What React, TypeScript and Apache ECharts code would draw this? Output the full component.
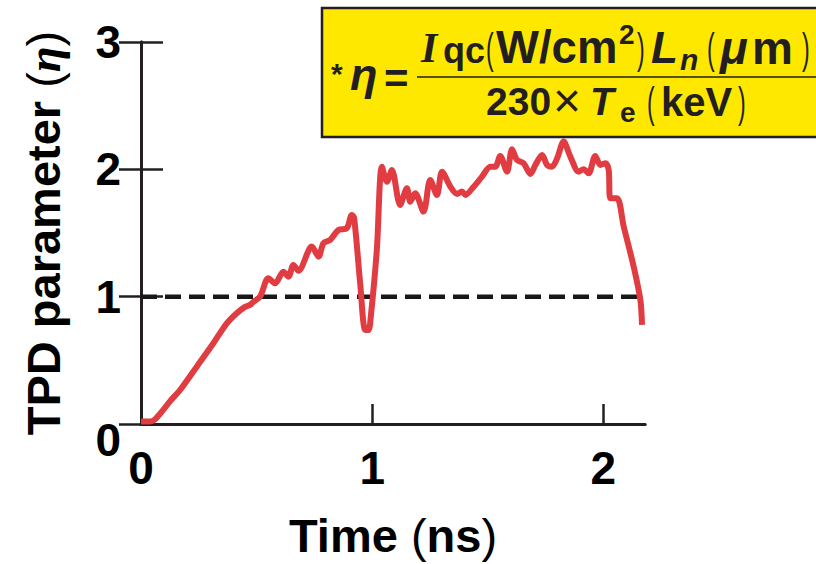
import React, { useEffect, useRef } from "react";
import * as echarts from "echarts";

// Time (ns)
const timeNs: number[] = [
  0, 0.039, 0.06, 0.09, 0.126, 0.169, 0.241, 0.313, 0.371, 0.414, 0.45, 0.472, 0.485, 0.515,
  0.551, 0.58, 0.616, 0.638, 0.659, 0.681, 0.739, 0.768, 0.789, 0.818, 0.854, 0.89, 0.912, 0.922,
  0.948, 0.97, 0.984, 0.994, 1.02, 1.042, 1.064, 1.085, 1.121, 1.15, 1.165, 1.186, 1.222, 1.251,
  1.28, 1.302, 1.338, 1.367, 1.388, 1.403, 1.439, 1.475, 1.511, 1.532, 1.554, 1.583, 1.605, 1.626,
  1.655, 1.684, 1.706, 1.735, 1.756, 1.778, 1.8, 1.828, 1.857, 1.893, 1.915, 1.936, 1.965, 1.987,
  2.009, 2.023, 2.03, 2.059, 2.088, 2.131, 2.16, 2.167,
];
// TPD parameter (eta)
const etaValues: number[] = [
  0.02, 0.02, 0.035, 0.097, 0.18, 0.267, 0.45, 0.634, 0.79, 0.87, 0.92, 0.935, 0.958, 1.0,
  1.145, 1.105, 1.196, 1.157, 1.249, 1.204, 1.393, 1.314, 1.42, 1.445, 1.524, 1.537, 1.642, 1.616,
  1.105, 0.738, 0.738, 0.843, 1.367, 2.021, 1.903, 1.995, 1.72, 1.852, 1.746, 1.812, 1.668, 1.917,
  1.799, 1.982, 1.864, 1.807, 1.825, 1.799, 1.864, 1.943, 2.021, 2.021, 2.105, 1.982, 2.158, 2.074,
  2.048, 1.964, 2.035, 2.113, 2.035, 2.021, 2.087, 2.218, 2.1, 1.982, 2.001, 1.969, 2.105, 2.035,
  2.048, 1.995, 1.773, 1.773, 1.55, 1.236, 0.974, 0.778,
];
const thresholdValue = 1;
const xTicks = { min: 0, max: 2.18, interval: 1 };
const yTicks = { min: 0, max: 3, interval: 1 };

const INK = "#231f20";
const SANS = "'Liberation Sans', Arial, Helvetica, sans-serif";
const SERIF = "'Liberation Serif', 'Times New Roman', serif";

function t(text: string, x: number, y: number, size: number, opts: any = {}) {
  return {
    type: "text",
    x,
    y,
    z: 20,
    scaleX: opts.scaleX || 1,
    style: {
      text,
      fill: INK,
      fontFamily: opts.family || SANS,
      fontSize: size,
      fontWeight: opts.weight || "bold",
      fontStyle: opts.italic ? "italic" : "normal",
      align: "left",
      verticalAlign: "middle",
    },
  };
}

export default function App() {
  const ref = useRef<HTMLDivElement>(null);
  useEffect(() => {
    if (!ref.current) return;
    const chart = echarts.init(ref.current, null, { renderer: "svg" });
    const data = timeNs.map((x, i) => [x, etaValues[i]]);
    const threshold = [
      [xTicks.min, thresholdValue],
      [xTicks.max, thresholdValue],
    ];
    const axisLine = { show: true, lineStyle: { color: INK, width: 3 } };
    chart.setOption({
      animation: false,
      backgroundColor: "#ffffff",
      grid: { left: 141, right: 171, top: 42, bottom: 140, containLabel: false },
      xAxis: [
        {
          type: "value",
          min: xTicks.min,
          max: xTicks.max,
          interval: xTicks.interval,
          position: "bottom",
          axisLine,
          axisTick: { show: true, inside: true, length: 20, lineStyle: { color: INK, width: 2.5 } },
          splitLine: { show: false },
          axisLabel: {
            show: true,
            margin: 21,
            color: "#000",
            fontFamily: SANS,
            fontWeight: "bold",
            fontSize: 46,
            showMaxLabel: false,
            formatter: (v: number) => (Math.abs(v - Math.round(v)) < 1e-6 ? String(Math.round(v)) : ""),
          },
          name: "{b|Time }{p|(}{b|ns}{p|)}",
          nameLocation: "middle",
          nameGap: 88,
          nameTextStyle: {
            rich: {
              b: { fontFamily: SANS, fontWeight: "bold", fontSize: 47, color: "#000" },
              p: { fontFamily: SANS, fontWeight: "normal", fontSize: 47, color: "#000" },
            },
          },
        },
        {
          type: "value",
          min: xTicks.min,
          max: xTicks.max,
          interval: xTicks.interval,
          position: "top",
          axisLine,
          axisTick: { show: false },
          axisLabel: { show: false },
          splitLine: { show: false },
        },
      ],
      yAxis: [
        {
          type: "value",
          min: yTicks.min,
          max: yTicks.max,
          interval: yTicks.interval,
          position: "left",
          axisLine,
          axisTick: { show: true, inside: true, length: 22, lineStyle: { color: INK, width: 2.5 } },
          splitLine: { show: false },
          axisLabel: {
            show: true,
            margin: 20,
            formatter: (v: number) => (v === 0 ? "{z|0}" : "{n|" + v + "}"),
            rich: {
              z: { fontFamily: SANS, fontWeight: "bold", fontSize: 46, color: "#000", padding: [32, 0, 0, 0] },
              n: { fontFamily: SANS, fontWeight: "bold", fontSize: 46, color: "#000" },
            },
          },
          name: "{b|TPD parameter }{p|(}{i|η}{p|)}",
          nameLocation: "middle",
          nameRotate: 90,
          nameGap: 74,
          nameTextStyle: {
            rich: {
              b: { fontFamily: SANS, fontWeight: "bold", fontSize: 47, color: "#000" },
              p: { fontFamily: SANS, fontWeight: "normal", fontSize: 47, color: "#000" },
              i: { fontFamily: SERIF, fontWeight: "bold", fontStyle: "italic", fontSize: 47, color: "#000" },
            },
          },
        },
        {
          type: "value",
          min: yTicks.min,
          max: yTicks.max,
          interval: yTicks.interval,
          position: "right",
          axisLine,
          axisTick: { show: true, inside: true, length: 22, lineStyle: { color: INK, width: 2.5 } },
          axisLabel: { show: false },
          splitLine: { show: false },
        },
      ],
      series: [
        {
          type: "line",
          data: threshold,
          xAxisIndex: 0,
          yAxisIndex: 0,
          showSymbol: false,
          silent: true,
          lineStyle: { color: "#1a1718", type: [16, 8], width: 4.5, opacity: 1 },
          z: 3,
        },
        {
          type: "line",
          data,
          xAxisIndex: 0,
          yAxisIndex: 0,
          showSymbol: false,
          smooth: 0.3,
          lineStyle: { color: "#e03c41", width: 6 },
          z: 5,
        },
      ],
      graphic: [
        {
          type: "rect",
          z: 10,
          shape: { x: 322, y: 8, width: 520, height: 129 },
          style: { fill: "#ffe800", stroke: INK, lineWidth: 2.5 },
        },
        {
          type: "line",
          z: 15,
          shape: { x1: 417, y1: 77, x2: 816, y2: 77 },
          style: { stroke: INK, lineWidth: 1.5 },
        },
        t("*", 331, 73, 30),
        t("η", 350, 74, 45, { italic: true }),
        t("=", 384, 78, 42),
        // numerator
        t("I", 421, 48, 42, { family: SERIF, italic: true }),
        t("qc", 443, 50.4, 36),
        t("(", 486, 48.3, 42, { weight: "normal", scaleX: 0.55 }),
        t("W/cm", 496, 47.5, 45.5),
        t("2", 619, 34, 28),
        t(")", 637, 48.3, 42, { weight: "normal", scaleX: 0.55 }),
        t("L", 651, 47.5, 44, { italic: true }),
        t("n", 680, 59.5, 30, { italic: true }),
        t("(", 707, 48.3, 42, { weight: "normal", scaleX: 0.55 }),
        t("μ", 720, 47.5, 46, { italic: true }),
        t("m", 752, 47.5, 46),
        t(")", 802, 48.3, 42, { weight: "normal", scaleX: 0.55 }),
        // denominator
        t("230", 486, 101.7, 39),
        t("×", 553, 100, 48, { weight: "normal" }),
        t("T", 590, 101.7, 39, { italic: true }),
        t("e", 620, 112, 28),
        t("(", 647, 102, 42, { weight: "normal", scaleX: 0.55 }),
        t("keV", 661, 101.7, 40),
        t(")", 738, 102, 42, { weight: "normal", scaleX: 0.55 }),
      ],
    });
    return () => chart.dispose();
  }, []);
  return <div ref={ref} style={{ width: 816, height: 564, position: "absolute", left: 0, top: 0 }} />;
}
